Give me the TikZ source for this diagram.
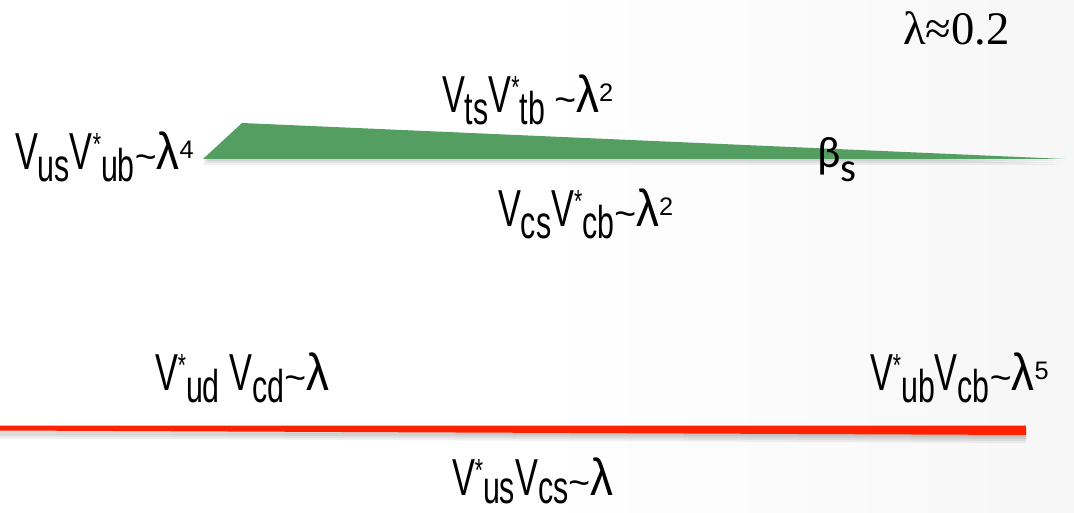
\documentclass[tikz,border=0pt]{standalone}
\usepackage{fontspec}
\setmainfont{Liberation Sans}
\newfontfamily\nar[FakeStretch=0.66]{Liberation Sans}
\newfontfamily\wide{Liberation Sans}
\newfontfamily\lamfont[FakeStretch=0.88]{Liberation Sans}
\newfontfamily\serifl{Liberation Serif}
\newfontfamily\calfont{Carlito}
\definecolor{mygreen}{RGB}{84,158,97}
\definecolor{myred}{RGB}{255,34,0}
\pgfdeclarehorizontalshading{bgshade}{100bp}{color(0bp)=(white); color(50bp)=(white); color(100bp)=(black!7)}
\newcommand\mainsz{\fontsize{39pt}{39pt}\selectfont}
\newcommand\subx[1]{\raisebox{-9pt}{\fontsize{34.5pt}{34.5pt}\selectfont #1}}
\newcommand\subf[1]{\raisebox{-6pt}{\fontsize{34.5pt}{34.5pt}\selectfont #1}}
\newcommand\stx{\raisebox{10.5pt}{\fontsize{24pt}{24pt}\selectfont *}}
\newcommand\pwx[1]{\raisebox{8.25pt}{\wide\fontsize{19pt}{19pt}\selectfont #1}}
\newcommand\tld{{\wide\fontsize{28pt}{28pt}\selectfont\textasciitilde}}
\newcommand\lmb{{\lamfont\fontsize{39pt}{39pt}\selectfont λ}}
\tikzset{
  lbl/.style={anchor=base west, inner sep=0pt, outer sep=0pt, font=\nar\mainsz},
  shadowc/.style={fill=black, opacity=0.06}
}
\begin{document}
\begin{tikzpicture}[x=0.75pt, y=-0.75pt]
\useasboundingbox (0,0) rectangle (1074,513);
\shade[shading=bgshade] (0,0) rectangle (1074,513);
% green triangle with shadow
\coordinate (g1) at (203,159);
\coordinate (g2) at (242,123);
\coordinate (g3) at (1065,159);
\foreach \d in {2,4,6}{
  \fill[shadowc] ([yshift=-\d*0.75pt]g1) -- ([yshift=-\d*0.75pt]g2) -- ([yshift=-\d*0.75pt]g3) -- cycle;
}
\fill[mygreen] (g1) -- (g2) -- (g3) -- cycle;
% red line with shadow
\coordinate (r1) at (0,425.5);
\coordinate (r2) at (1026,425.5);
\coordinate (r3) at (1026,435);
\coordinate (r4) at (0,430.5);
\foreach \d in {2,4,6,8}{
  \fill[shadowc] ([yshift=-\d*0.75pt]r1) -- ([yshift=-\d*0.75pt]r2) -- ([yshift=-\d*0.75pt]r3) -- ([yshift=-\d*0.75pt]r4) -- cycle;
}
\fill[myred] (r1) -- (r2) -- (r3) -- (r4) -- cycle;
% labels
\node[lbl] (lam) at (903,45) {\serifl\fontsize{35pt}{35pt}\selectfont λ≈0.2};
\node[lbl] (a) at (15,170) {V\subx{us}V\stx\subx{ub}\tld\lmb\pwx{4}};
\node[lbl] (b) at (442,113) {V\subx{ts}V\stx\subx{tb} \tld\lmb\pwx{2}};
\node[lbl] (c) at (498,227) {V\subx{cs}V\stx\subx{cb}\tld\lmb\pwx{2}};
\node[lbl] (beta) at (817,168) {\calfont\fontsize{33pt}{33pt}\selectfont β\raisebox{-10.5pt}{\fontsize{30.5pt}{30.5pt}\selectfont s}};
\node[lbl] (d) at (155,390) {V\stx\subx{ud} V\subx{cd}\tld\lmb};
\node[lbl] (e) at (870,390) {V\stx\subx{ub}V\subx{cb}\tld\lmb\pwx{5}};
\node[lbl] (f) at (452,495) {V\stx\subf{us}V\subf{cs}\tld\lmb};
\end{tikzpicture}
\end{document}
